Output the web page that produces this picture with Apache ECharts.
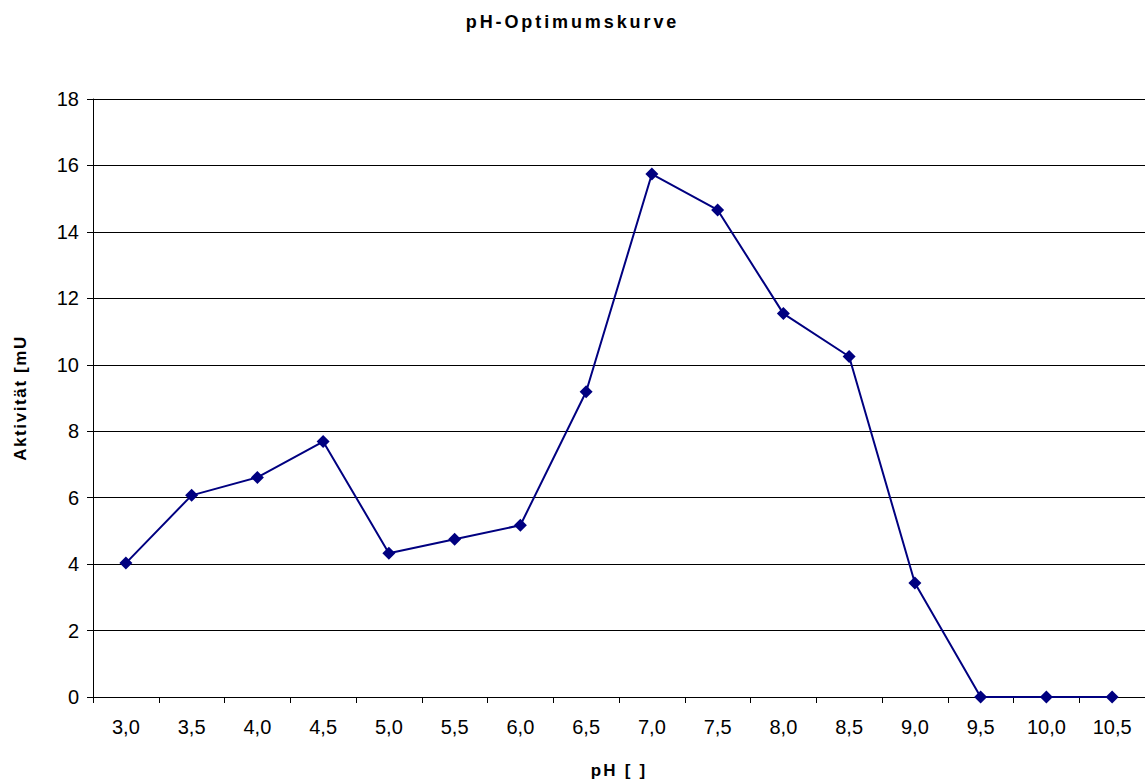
<!DOCTYPE html>
<html>
<head>
<meta charset="utf-8">
<title>pH-Optimumskurve</title>
<script src="https://cdn.jsdelivr.net/npm/echarts@6/dist/echarts.min.js"></script>
<style>
  html, body { margin: 0; padding: 0; background: #fff; }
  #chart { width: 1145px; height: 784px; }
</style>
</head>
<body>
<div id="chart"></div>
<script>
// pH values (category labels) and measured activity
const phLabels = ['3,0', '3,5', '4,0', '4,5', '5,0', '5,5', '6,0', '6,5', '7,0', '7,5', '8,0', '8,5', '9,0', '9,5', '10,0', '10,5'];
const activity = [4.03, 6.07, 6.61, 7.69, 4.33, 4.75, 5.17, 9.19, 15.74, 14.66, 11.54, 10.25, 3.43, 0, 0, 0];
const yTicks = { min: 0, max: 18, step: 2 };

const titleText = 'pH-Optimumskurve';
const xName = 'pH [ ]';
const yName = 'Aktivität [mU';

const chart = echarts.init(document.getElementById('chart'), null, { renderer: 'svg' });
const font = 'Arial, "Liberation Sans", Helvetica, sans-serif';

chart.setOption({
  animation: false,
  backgroundColor: '#ffffff',
  title: {
    text: titleText,
    left: 'center',
    top: 8,
    textStyle: { fontFamily: font, fontSize: 18, fontWeight: 'bold', color: '#000' }
  },
  grid: { left: 93, right: 0, top: 99, bottom: 87, containLabel: false },
  xAxis: {
    type: 'category',
    data: phLabels,
    boundaryGap: true,
    name: xName,
    nameLocation: 'middle',
    nameGap: 65,
    nameTextStyle: { fontFamily: font, fontSize: 17, fontWeight: 'bold', color: '#000' },
    axisLine: { lineStyle: { color: '#000', width: 1 } },
    axisTick: { show: true, length: 6, lineStyle: { color: '#000' } },
    axisLabel: { fontFamily: font, fontSize: 20, color: '#000', margin: 20 },
    splitLine: { show: false }
  },
  yAxis: {
    type: 'value',
    min: yTicks.min,
    max: yTicks.max,
    interval: yTicks.step,
    name: yName,
    nameLocation: 'middle',
    nameGap: 64,
    nameRotate: 90,
    nameTextStyle: { fontFamily: font, fontSize: 17, fontWeight: 'bold', color: '#000' },
    axisLine: { show: true, lineStyle: { color: '#000', width: 1 } },
    axisTick: { show: true, length: 6, lineStyle: { color: '#000' } },
    axisLabel: { fontFamily: font, fontSize: 20, color: '#000', margin: 14 },
    splitLine: { show: true, lineStyle: { color: '#000', width: 1 } }
  },
  series: [{
    type: 'line',
    data: activity,
    symbol: 'diamond',
    symbolSize: 13,
    lineStyle: { color: '#000080', width: 2 },
    itemStyle: { color: '#000080' },
    z: 3
  }]
});

// Wider tracking for the bold title and axis names
const tracking = { [titleText]: '2.9px', [xName]: '2.2px', [yName]: '1.6px' };
function applyTracking() {
  document.querySelectorAll('#chart svg text').forEach(function (t) {
    const sp = tracking[t.textContent];
    if (sp) t.style.letterSpacing = sp;
  });
}
chart.on('finished', applyTracking);
applyTracking();
</script>
</body>
</html>
